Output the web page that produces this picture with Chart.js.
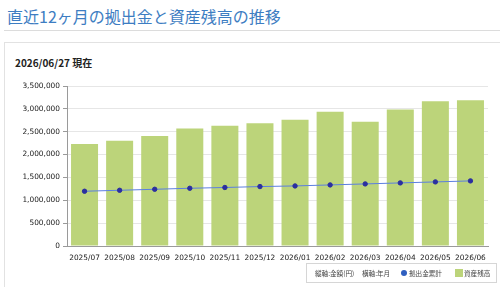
<!DOCTYPE html>
<html>
<head>
<meta charset="utf-8">
<script src="https://cdn.jsdelivr.net/npm/chart.js@4"></script>
<style>
  html, body { margin: 0; padding: 0; background: #fff; }
  body { width: 500px; height: 287px; position: relative; overflow: hidden; font-family: "Noto Sans CJK JP", "DejaVu Sans", sans-serif; }
  #title { position: absolute; left: 7px; top: 4px; font-size: 16px; color: #3d7dc2; }
  #rule { position: absolute; left: 4px; right: 0; top: 30px; border-top: 1px solid #dcdcdc; }
  #panel { position: absolute; left: 4px; top: 42px; width: 500px; height: 260px; border: 1px solid #e2e2e2; }
  #asof { position: absolute; left: 15px; top: 55px; font-size: 10px; font-weight: bold; color: #222; }
  #wrap { position: absolute; left: 0; top: 76px; width: 500px; height: 192px; }
  #legend { position: absolute; left: 306px; top: 263px; width: 189px; height: 18px; border: 1px solid #d6d6d6; font-size: 6.6px; color: #444; white-space: nowrap; }
  #legend span { position: absolute; top: 4px; line-height: 10px; }
  #legend .dot { top: 6px; width: 6px; height: 6px; border-radius: 50%; background: #2f5fc0; }
  #legend .sq { top: 5px; width: 8px; height: 8px; background: #bcd47a; }
</style>
</head>
<body>
<div id="title">直近12ヶ月の拠出金と資産残高の推移</div>
<div id="rule"></div>
<div id="panel"></div>
<div id="asof">2026/06/27 現在</div>
<div id="wrap"><canvas id="chart"></canvas></div>
<div id="legend">
  <span style="left:8px">縦軸:金額(円)</span>
  <span style="left:55px">横軸:年月</span>
  <span class="dot" style="left:94px"></span>
  <span style="left:102px">拠出金累計</span>
  <span class="sq" style="left:148px"></span>
  <span style="left:157px">資産残高</span>
</div>
<script>
// 年月
var meses = ['2025/07', '2025/08', '2025/09', '2025/10', '2025/11', '2025/12',
             '2026/01', '2026/02', '2026/03', '2026/04', '2026/05', '2026/06'];
// 資産残高
var saldo = [2232000, 2305000, 2408000, 2570000, 2628000, 2687000,
             2761000, 2937000, 2717000, 2988000, 3164000, 3186000];
// 拠出金累計
var aportes = [1198000, 1219000, 1241000, 1263000, 1280000, 1300000,
               1314000, 1336000, 1358000, 1380000, 1402000, 1424000];
var yMax = 3500000;
var yStep = 500000;

var fonteEixo = { family: 'DejaVu Sans', size: 7.4 };

var ctx = document.getElementById('chart').getContext('2d');
var grafico = new Chart(ctx, {
    data: {
        labels: meses,
        datasets: [{
            type: 'line',
            label: '拠出金累計',
            data: aportes,
            borderColor: '#5b7fe0',
            borderWidth: 1,
            pointRadius: 2.2,
            pointBackgroundColor: '#2b2fa0',
            pointBorderColor: '#2b2fa0',
            tension: 0,
            order: 0
        }, {
            type: 'bar',
            label: '資産残高',
            data: saldo,
            backgroundColor: '#bcd47a',
            barPercentage: 0.77,
            categoryPercentage: 1,
            order: 1
        }]
    },
    options: {
        responsive: true,
        maintainAspectRatio: false,
        animation: false,
        layout: { padding: { left: 0, right: 12, top: 10, bottom: 0 } },
        plugins: {
            legend: { display: false },
            tooltip: { enabled: false }
        },
        scales: {
            x: {
                grid: { display: false },
                border: { color: '#9a9a9a' },
                ticks: { color: '#222', font: fonteEixo, maxRotation: 0, autoSkip: false, padding: 0 },
                afterFit: function(scale) { scale.height = 22; }
            },
            y: {
                min: 0,
                max: yMax,
                ticks: {
                    stepSize: yStep,
                    color: '#222',
                    padding: 3,
                    font: fonteEixo,
                    callback: function(v) { return v.toLocaleString('en-US'); }
                },
                grid: { color: '#e6e6e6', tickColor: '#9a9a9a', tickLength: 4 },
                border: { color: '#9a9a9a' },
                afterFit: function(scale) { scale.width = 67; }
            }
        }
    }
});
</script>
</body>
</html>
